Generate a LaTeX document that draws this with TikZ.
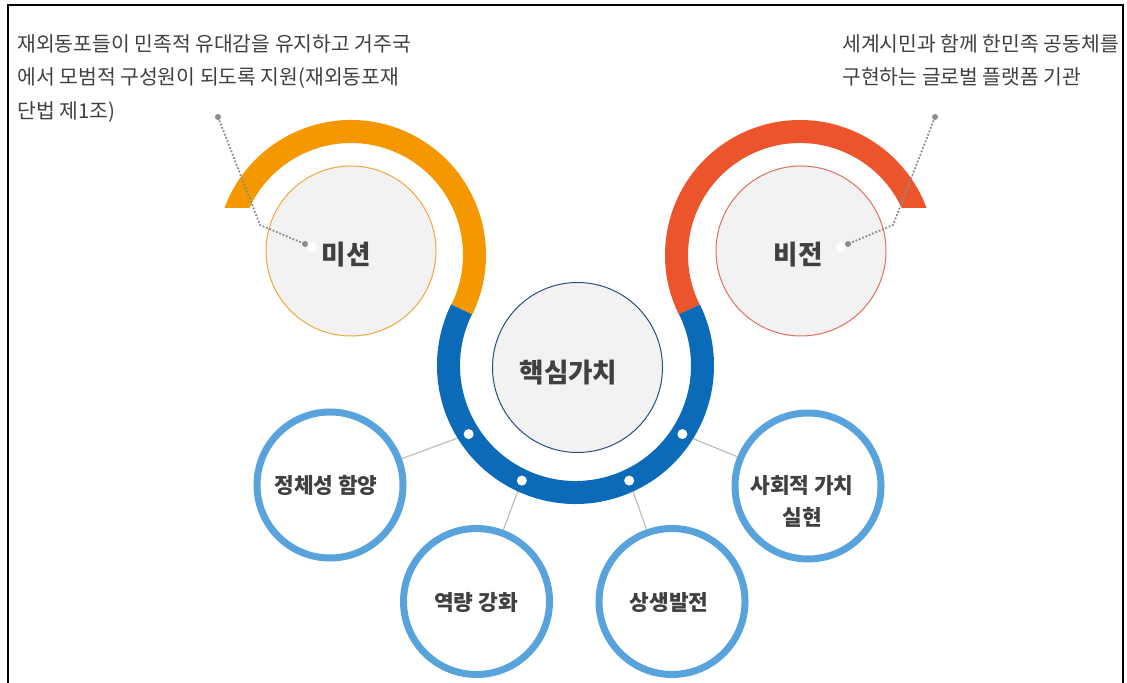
\documentclass[tikz,border=0pt]{standalone}
\usepackage{fontspec}
\setmainfont{Noto Sans CJK KR}
\usetikzlibrary{calc}
\definecolor{bandorange}{RGB}{245,152,0}
\definecolor{bandred}{RGB}{236,84,44}
\definecolor{bandblue}{RGB}{12,107,184}
\definecolor{ringblue}{RGB}{88,163,220}
\definecolor{softgray}{RGB}{242,242,242}
\definecolor{txtgray}{RGB}{64,64,64}
\definecolor{linkgray}{RGB}{190,190,190}
\definecolor{leadgray}{RGB}{140,140,140}
\definecolor{ringorange}{RGB}{240,168,60}
\definecolor{ringred}{RGB}{222,112,92}
\definecolor{ringnavy}{RGB}{40,78,130}

\begin{document}
\begin{tikzpicture}[x=0.5pt,y=0.5pt,
    bigcircle/.style={circle,minimum size=85pt,fill=softgray,line width=0.5pt,inner sep=0pt},
    valring/.style={circle,minimum size=73pt,draw=ringblue,line width=3.5pt,fill=white,inner sep=0pt},
    biglabel/.style={font=\fontsize{13.3}{15}\selectfont\bfseries,text=txtgray},
    vallabel/.style={font=\fontsize{10.7}{16}\selectfont\bfseries,text=txtgray,align=center},
    para/.style={anchor=west,font=\fontsize{10.2}{12}\selectfont,text=txtgray,inner sep=0pt,
                 text height=0.8em,text depth=0.15em},
    link/.style={draw=linkgray,line width=0.6pt},
    leader/.style={draw=leadgray,line width=0.9pt,dash pattern=on 0.9pt off 0.9pt},
    enddot/.style={circle,fill=leadgray,inner sep=0pt,minimum size=3pt},
    holedot/.style={circle,fill=white,inner sep=0pt,minimum size=5pt}]
  \tikzstyle{band}=[line width=11.5pt,line cap=butt]

  \useasboundingbox (0,0) rectangle (1127,683);
  \draw[line width=0.8pt] (8,0) -- (8,678) -- (1123,678) -- (1123,0);

  \node[para] (m1) at (17,638) {재외동포들이 민족적 유대감을 유지하고 거주국};
  \node[para] (m2) at (17,605) {에서 모범적 구성원이 되도록 지원(재외동포재};
  \node[para] (m3) at (17,571) {단법 제1조)};
  \node[para] (v1) at (842,638) {세계시민과 함께 한민족 공동체를};
  \node[para] (v2) at (842,605) {구현하는 글로벌 플랫폼 기관};

  \coordinate (Mo) at (351,428);
  \coordinate (Vo) at (800,428);
  \coordinate (C)  at (575.5,317.5);

  \node[bigcircle,draw=ringorange] (mission) at (351,432) {};
  \node[bigcircle,draw=ringred]    (vision)  at (801,432) {};
  \node[bigcircle,draw=ringnavy]   (core)    at (577.5,315.5) {};
  \node[biglabel] (missionlbl) at (346,428) {미션};
  \node[biglabel] (visionlbl)  at (798,428) {비전};
  \node[biglabel] (corelbl)    at (568.5,310) {핵심가치};

  \coordinate (d1) at ($(C)+(212.7:127)$);
  \coordinate (d2) at ($(C)+(245:127)$);
  \coordinate (d3) at ($(C)+(295:127)$);
  \coordinate (d4) at ($(C)+(327.3:127)$);

  \node[valring] (ident)  at (330,198) {};
  \node[valring] (power)  at (476.5,81.5) {};
  \node[valring] (mutual) at (672,81.5) {};
  \node[valring] (social) at (808,197) {};
  \node[vallabel] (identlbl)  at (326,198) {정체성 함양};
  \node[vallabel] (powerlbl)  at (476,80) {역량 강화};
  \node[vallabel] (mutuallbl) at (669,80) {상생발전};
  \node[vallabel] (sociallbl) at (802,182) {사회적 가치\\실현};

  \draw[link] (d1) -- (ident);
  \draw[link] (d2) -- (power);
  \draw[link] (d3) -- (mutual);
  \draw[link] (d4) -- (social);

  \fill[bandorange] ($(Mo)+(159.6:135)$) arc[start angle=159.6,end angle=-26.2,radius=135]
        -- ($(Mo)+(-26.2:112)$) arc[start angle=-26.2,end angle=155.2,radius=112] -- cycle;
  \fill[bandred] ($(Vo)+(206.2:135)$) arc[start angle=206.2,end angle=20.4,radius=135]
        -- ($(Vo)+(24.8:112)$) arc[start angle=24.8,end angle=206.2,radius=112] -- cycle;
  \draw[band,bandblue] ($(C)+(153.8:127)$) arc[start angle=153.8,end angle=386.2,radius=127];

  \foreach \d in {d1,d2,d3,d4}
    \node[holedot] (h\d) at (\d) {};

  \coordinate (mtip)  at (218,566);
  \coordinate (mbend) at (260,458);
  \coordinate (mend)  at (305,439);
  \coordinate (vtip)  at (935,566);
  \coordinate (vbend) at (893,458);
  \coordinate (vend)  at (848,439);
  \draw[leader] (mtip) -- (mbend) -- (mend);
  \draw[leader] (vtip) -- (vbend) -- (vend);
  \node[holedot] (mglow) at (312,436) {};
  \node[holedot] (vglow) at (841,436) {};
  \node[enddot] (mtipdot) at (mtip) {};
  \node[enddot] (menddot) at (mend) {};
  \node[enddot] (vtipdot) at (vtip) {};
  \node[enddot] (venddot) at (vend) {};
\end{tikzpicture}
\end{document}
